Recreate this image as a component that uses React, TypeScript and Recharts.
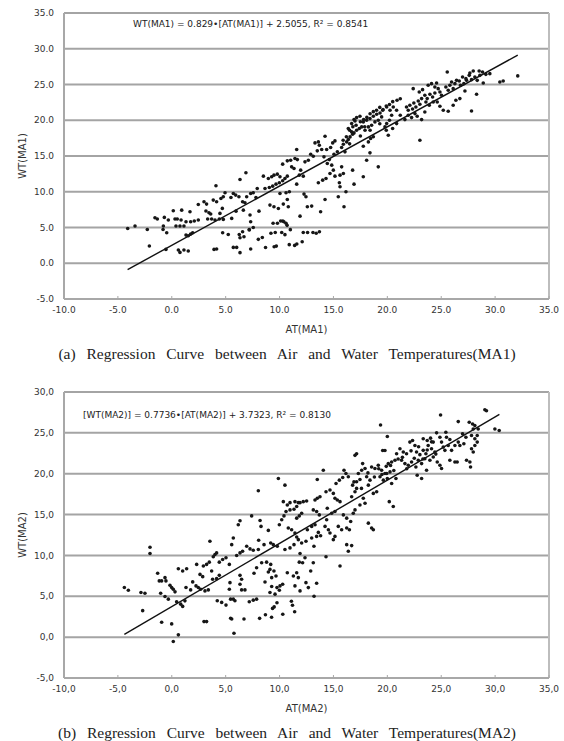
import React from "react";
import {
  CartesianGrid,
  ReferenceLine,
  Scatter,
  ScatterChart,
  XAxis,
  YAxis,
} from "recharts";

// MA1: air temperature (x) vs water temperature (y)
const at1 = [
  -4.09, -3.41, -2.27, -2.08, -1.56, -1.34, -0.78, -0.81, -0.69, -0.47, -0.32, 0.14, 0.3, 0.51, 0.39, 0.92,
  0.86, 0.76, 1.13, 1.32, 1.75, 2.09, 2.46, 1.69, 1.32, 1.53, 1.75, 1.94, 0.61, 0.76, 1.13, 1.53, -0.54,
  2.46, 2.99, 3.23, 3.17, 3.45, 3.61, 3.85, 4.16, 4.1, 3.33, 3.7, 4.01, 4.41, 4.78, 4.56, 4.78, 4.69, 4.47,
  4.94, 5.49, 5.71, 5.93, 6.23, 6.33, 6.88, 6.57, 6.79, 6.64, 6.95, 7.32, 7.56, 5.56, 5.96, 7.26, 7.32,
  7.19, 7.81, 7.93, 8.09, 4.72, 5.24, 6.26, 6.33, 6.57, 6.7, 7.19, 7.56, 3.92, 4.16, 5.71, 6.02, 6.33,
  7.32, 8.03,
  8.7, 9.5, 9.7, 10.9, 11.4, 11.6, 12.1, 12.6, 13.1, 13.4, 13.7, 9.2, 9.6, 10.2, 10.4, 10.6, 11.0, 10.1,
  9.4, 12.2, 10.5, 8.4, 9.8, 10.3, 10.7,
  8.5, 8.96, 9.27, 9.48, 9.79, 10.04, 8.65, 9.05, 9.36, 9.67, 9.98, 10.29, 10.5, 10.72, 9.11, 9.48, 9.89,
  10.35, 10.72, 10.81, 10.04, 10.6, 10.91, 10.29, 10.72, 11.12, 11.34, 11.59, 11.03, 11.43, 11.65, 11.83,
  12.2, 11.96, 11.59, 12.27, 12.45, 11.9, 12.58, 12.98, 12.36, 12.67, 12.89, 13.13, 13.29, 13.6, 13.69,
  13.5, 13.91, 14.22, 13.6, 14.0, 13.81, 14.22, 14.31, 14.68, 14.43, 14.84, 14.12, 14.62, 14.93, 15.14,
  14.37, 14.74, 15.05, 15.36, 14.99, 15.14, 15.76, 15.61, 15.92, 15.45, 15.98, 16.16, 15.55, 15.61, 15.76,
  15.92, 16.23, 16.38, 16.54, 16.78, 16.91, 16.07, 16.78, 16.91, 17.15, 17.4, 17.62, 16.69, 16.91, 17.15,
  17.46, 17.93, 18.24, 18.54, 17.77, 18.08, 18.39, 18.7, 19.01, 19.32, 19.57, 18.85, 19.16, 19.47, 17.77,
  18.24, 18.45, 18.08, 18.39, 19.16, 17.77, 16.38, 16.69, 19.94, 20.25, 20.55, 20.86, 20.4, 20.09, 20.49,
  20.86, 19.78, 19.94,
  15.9, 16.2, 16.5, 16.8, 17.1, 17.5, 17.8, 18.1, 18.4, 18.7, 19.0, 19.3, 19.6, 19.9, 20.2, 20.5, 20.9,
  21.2, 16.5, 17.5, 18.4, 19.3, 20.2, 21.2, 18.7, 19.9, 17.0, 17.9,
  21.63, 21.94, 22.25, 22.56, 22.77, 21.78, 22.09, 22.46, 22.87, 23.18, 21.94, 22.34, 22.65, 23.02, 22.4,
  22.96, 23.27, 23.48, 23.7, 23.95, 24.2, 24.41, 23.58, 23.89, 24.26, 23.48, 23.18, 23.02, 23.79, 24.1,
  24.41, 24.57, 24.72, 24.88, 25.03, 24.63, 24.88, 25.19, 25.43, 25.65, 25.8, 26.11, 25.96, 26.27, 26.42,
  26.67, 25.56, 25.65, 26.11, 26.36, 26.79, 27.1, 27.35, 26.98, 27.29, 27.6, 27.66, 27.97, 27.81, 27.2,
  27.81, 26.73, 28.12, 28.34, 28.59, 28.52, 28.83, 29.14, 28.28, 28.9, 29.51, 30.44, 30.75, 32.1,
];
const wt1 = [
  4.87, 5.2, 4.73, 2.41, 6.36, 6.18, 5.2, 4.73, 6.41, 4.27, 6.04, 7.34, 6.18, 6.18, 5.2, 7.43,
  6.04, 5.2, 5.2, 5.8, 5.8, 5.9, 6.04, 7.2, 3.94, 3.85, 4.08, 4.27, 1.85, 1.52, 1.85, 1.71, 1.94,
  8.22, 8.6, 8.27, 7.3, 7.06, 6.88, 8.83, 8.6, 10.83, 6.18, 6.18, 6.04, 6.18, 6.13, 9.06, 9.3, 7.67, 6.97,
  9.85, 9.2, 9.76, 9.53, 9.3, 11.72, 12.65, 8.6, 8.46, 7.43, 9.3, 9.76, 9.85, 6.27, 7.29, 6.74, 5.8,
  4.73, 9.2, 10.46, 7.29, 4.27, 4.03, 4.03, 3.57, 4.41, 3.71, 4.64, 5.01, 1.94, 1.99, 2.22, 2.22, 1.48,
  1.99, 3.34,
  2.2, 2.3, 2.4, 2.6, 2.5, 2.7, 3.0, 4.3, 4.3, 4.2, 4.4, 4.2, 4.3, 4.3, 5.8, 5.6, 4.7, 5.9,
  5.6, 4.3, 4.0, 3.6, 5.6, 5.9, 5.3,
  12.18, 11.85, 12.09, 12.32, 12.46, 12.09, 10.46, 10.6, 10.78, 11.06, 11.25, 11.53, 11.85, 12.18, 8.13, 7.9, 7.66,
  8.27, 8.92, 7.9, 9.76, 9.85, 9.99, 13.86, 14.32, 13.48, 13.25, 15.9, 14.41, 14.65, 14.5, 12.32,
  12.18, 13.02, 11.06, 9.67, 9.3, 6.59, 7.9, 7.99, 14.18, 14.41, 15.25, 14.97, 16.83, 16.97, 16.51,
  15.72, 15.9, 17.77, 11.25, 11.62, 7.2, 8.92, 11.85, 12.55, 13.95, 13.72, 14.88, 14.5, 16.83, 17.11,
  15.9, 16.18, 15.25, 15.58, 13.02, 12.18, 13.48, 12.32, 12.55, 9.3, 7.9, 9.99, 11.25, 10.69, 16.18,
  16.65, 16.97, 17.3, 17.67, 18.05, 18.23, 15.58, 13.02, 11.06, 18.6, 18.84, 19.07, 19.53, 20.09, 20.37,
  20.56, 18.6, 19.07, 19.3, 19.77, 20.0, 20.23, 20.56, 20.84, 21.02, 21.4, 19.77, 20.0, 20.47, 16.37,
  16.97, 17.44, 14.41, 15.44, 13.48, 12.09, 18.84, 18.37, 21.86, 21.4, 21.86, 21.4, 20.7, 17.91, 18.84,
  19.53, 19.07, 19.53,
  17.2, 17.7, 18.6, 19.1, 19.3, 19.8, 20.1, 20.4, 20.9, 21.2, 21.4, 21.8, 21.5, 22.0, 22.2, 22.6, 22.8,
  23.0, 16.7, 17.8, 18.6, 19.5, 20.0, 20.7, 17.7, 18.6, 19.9, 19.1,
  20.09, 20.7, 20.37, 20.93, 20.56, 21.86, 22.1, 22.42, 22.7, 23.03, 21.4, 21.58, 21.86, 22.23, 24.42,
  23.96, 24.28, 23.49, 23.03, 23.63, 23.26, 23.82, 22.56, 22.1, 22.56, 21.16, 20.09, 17.21, 24.89, 25.12,
  24.65, 25.21, 24.42, 23.96, 23.49, 22.56, 21.96, 21.4, 24.65, 24.19, 24.89, 24.42, 25.35, 25.12, 25.58,
  25.49, 26.75, 21.26, 22.1, 22.79, 24.89, 25.12, 25.58, 26.05, 25.82, 26.28, 26.61, 26.89, 25.68, 24.1,
  21.3, 23.03, 26.05, 25.58, 26.28, 26.89, 26.75, 26.42, 23.63, 25.21, 26.52, 25.35, 25.49, 26.2,
];

// MA2
const at2 = [
  -4.4, -4.03, -2.86, -2.49, -2.7, -2.02, -2.02, -1.31, -1.16, -0.94, -0.63, -0.54, -1.03, -0.63, -0.32,
  -0.94, -0.17, -0.01, 0.14, 0.3, 0.61, 1.01, 1.38, -0.01, 0.14, 0.61, 0.45, 0.83, 1.01, 1.22, 1.32, 1.75,
  1.94, 2.31, 2.62, 2.87, 2.25, 2.46, 2.68, 3.08, 3.39, 2.93, 3.23, 3.48, 3.7, 2.99, 3.23, 3.54, 3.85,
  4.01, 4.16, 3.79, 4.16, 4.41, 4.41, 4.72, 5.03, 4.22, 4.63, 5.03, 5.34, 5.56, 5.71, 5.4, 5.34, 5.46,
  5.86, 5.71, 5.46, 5.56, 5.77, 6.33, 6.48, 6.33, 6.48, 6.79, 6.02, 6.33, 6.57, 6.7, 7.19, 7.56, 7.87,
  6.95, 7.26, 7.56, 7.63, 7.87, 6.17, 6.33,
  8.15, 8.69, 9.26, 9.35, 9.5, 10.3, 11.4, 11.2, 11.1, 13.2, 9.76,
  8.03, 7.41, 8.19, 8.28, 8.96, 8.06, 8.56, 8.03, 9.18, 9.42, 9.79, 8.34, 8.8, 9.18, 8.96, 9.11, 9.48,
  8.65, 9.27, 9.67, 9.27, 9.76, 10.04, 10.29, 9.98, 9.11, 9.58, 9.89, 10.5, 10.35, 10.72, 10.97, 11.43,
  11.74, 10.2, 9.98, 10.41, 10.6, 10.97, 11.34, 11.59, 10.81, 11.12, 11.43, 11.59, 11.59, 11.83, 12.05,
  11.9, 12.2, 12.51, 10.5, 10.97, 11.34, 11.74, 12.05, 12.45, 11.9, 12.36, 11.83, 12.14, 10.72, 11.28,
  11.59, 11.74, 11.43, 11.9, 12.45, 12.67, 13.44, 13.13, 12.89, 12.58, 12.98, 13.29, 12.98, 13.44, 13.19,
  13.6, 13.81, 14.31, 13.29, 13.5, 13.75, 13.13, 13.44, 13.69, 13.5, 14.06, 14.37, 14.22, 14.53, 14.68,
  15.14, 14.99, 14.43, 14.84, 15.14, 14.31, 14.68, 14.99, 15.14, 15.36, 15.61, 15.61, 15.24, 15.55, 15.86,
  15.98, 16.16, 16.38, 15.45, 15.76, 16.23, 16.48, 16.23, 16.69, 16.38, 15.92, 16.23, 16.6, 16.69, 17.0,
  17.15, 16.78, 17.15, 17.46, 16.84, 17.0, 17.31, 17.62, 17.93, 17.0, 17.15, 17.71, 18.08, 18.39, 18.24,
  18.24, 18.54, 18.7, 17.46, 17.93, 17.77, 18.7, 19.01, 18.54, 18.85, 19.16, 19.47, 19.78, 19.32, 19.63,
  19.57, 19.78, 20.0, 20.09, 20.4, 20.71, 19.94, 20.25, 20.18, 20.55, 20.4, 20.8, 20.86,
  19.2, 19.5, 19.9, 20.3, 20.6, 21.0, 21.4, 21.8, 22.2, 22.5, 22.9, 23.3, 23.7, 24.1, 24.5, 18.8, 18.2,
  17.6, 16.9, 20.0,
  19.37, 21.17, 21.48, 21.78, 21.32, 21.63, 21.94, 22.25, 22.09, 22.34, 22.56, 22.71, 23.02, 23.33, 23.58,
  22.87, 23.18, 23.48, 22.65, 22.77, 23.18, 23.64, 23.33, 23.7, 24.01, 24.26, 23.79, 24.1, 24.41, 23.95,
  24.26, 24.63, 24.57, 24.88, 25.03, 24.94, 25.19, 25.34, 25.65, 25.49, 25.8, 25.43, 24.88, 25.03, 25.8,
  26.27, 25.96, 26.27, 26.58, 26.58, 26.98, 27.29, 26.48, 26.73, 27.1, 27.35, 27.66, 27.72, 27.6, 27.91,
  27.97, 28.12, 27.81, 28.12, 28.34, 27.81, 27.97, 28.12, 28.43, 28.34, 29.05, 29.2, 29.98, 30.38,
];
const wt2 = [
  6.07, 5.74, 5.46, 5.38, 3.24, 11.0, 10.23, 7.81, 6.88, 6.88, 7.28, 6.88, 5.38, 4.97, 4.65,
  1.82, 6.35, 6.07, 5.86, 5.54, 8.37, 8.09, 8.37, 1.62, -0.53, 0.28, 4.33, 4.04, 3.76, 4.44, 6.07, 5.78,
  6.76, 8.9, 7.68, 7.4, 6.27, 6.07, 5.86, 5.66, 5.78, 8.7, 8.9, 9.18, 8.09, 1.9, 1.9, 11.73, 9.83,
  10.11, 10.31, 7.08, 7.16, 7.56, 9.18, 9.5, 9.71, 4.45, 4.25, 3.92, 8.9, 11.32, 12.13, 6.67, 5.86, 4.65,
  4.45, 4.65, 2.31, 2.22, 0.48, 7.56, 7.08, 6.47, 5.78, 5.78, 9.99, 10.31, 10.52, 2.22, 4.33, 4.53, 4.65,
  11.12, 10.8, 10.64, 7.81, 8.49, 13.75, 14.24,
  2.3, 2.74, 2.43, 3.52, 3.7, 2.8, 3.1, 3.9, 4.4, 5.0, 4.2,
  17.92, 14.84, 14.28, 13.55, 13.06, 11.85, 11.32, 10.72, 11.53, 11.32, 11.12, 9.1, 9.18, 8.9, 7.97, 8.29, 8.09,
  6.75, 7.28, 7.48, 6.19, 6.06, 6.27, 6.47, 5.74, 5.46, 5.26, 19.41, 18.6, 16.58, 16.18, 16.46, 16.58,
  16.46, 14.36, 13.75, 14.84, 15.37, 15.57, 15.65, 15.98, 13.35, 13.14, 12.74, 12.25, 14.56, 14.84, 15.17,
  16.46, 16.58, 16.66, 10.72, 10.92, 11.32, 11.93, 11.53, 11.73, 10.23, 9.71, 9.18, 9.1, 7.88, 7.48,
  7.88, 7.28, 6.27, 5.66, 6.67, 6.06, 6.59, 9.1, 8.09, 13.14, 13.55, 13.75, 12.13, 12.33, 11.12,
  12.82, 12.41, 9.83, 16.79, 16.99, 17.19, 15.57, 15.37, 14.96, 19.29, 20.43, 14.36, 13.55, 13.14, 12.74,
  12.33, 11.93, 15.77, 15.17, 15.37, 17.8, 18.0, 17.59, 16.99, 16.79, 16.58, 8.7, 18.81, 19.21, 19.54,
  20.43, 20.02, 19.62, 13.55, 13.14, 13.35, 13.14, 11.32, 11.2, 10.52, 14.96, 14.56, 14.15, 17.19, 17.8,
  18.2, 18.6, 19.01, 19.29, 15.17, 15.57, 20.02, 20.43, 20.63, 22.25, 22.45, 21.24, 19.62, 19.21, 18.6,
  13.95, 13.35, 13.14, 16.18, 16.38, 16.99, 17.59, 17.8, 20.83, 20.63, 21.03, 20.43, 20.02, 19.62, 19.21,
  22.85, 22.85, 24.55, 21.24, 21.44, 21.64, 20.02, 20.22, 16.58, 15.98, 18.81, 19.41, 22.45,
  20.6, 19.9, 20.9, 21.0, 20.4, 21.8, 22.0, 20.6, 22.8, 21.9, 23.3, 21.8, 22.9, 23.9, 22.4, 19.6, 20.1,
  18.2, 19.0, 19.4,
  25.97, 23.06, 22.65, 22.45, 21.64, 21.24, 21.03, 21.44, 23.87, 24.07, 23.46, 22.65, 22.33, 22.86, 22.45,
  21.64, 21.24, 21.84, 20.83, 19.82, 19.42, 20.43, 24.27, 24.07, 24.35, 23.87, 23.46, 23.06, 22.65, 21.64,
  22.05, 21.44, 25.0, 24.47, 23.87, 27.18, 23.26, 22.86, 23.46, 24.47, 24.19, 25.08, 21.03, 20.63, 21.64,
  21.44, 22.86, 23.46, 23.87, 26.38, 24.88, 24.47, 21.44, 23.46, 23.66, 21.64, 21.44, 20.83, 26.29, 26.09,
  25.48, 25.89, 24.68, 24.27, 23.87, 23.06, 22.65, 23.46, 25.48, 24.68, 27.83, 27.71, 25.48, 25.28,
];

const xTicks = [-10, -5, 0, 5, 10, 15, 20, 25, 30, 35];
const yTicks1 = [-5, 0, 5, 10, 15, 20, 25, 30, 35];
const yTicks2 = [-5, 0, 5, 10, 15, 20, 25, 30];

const fit1 = { slope: 0.829, intercept: 2.5055, from: -4.1, to: 32.1 };
const fit2 = { slope: 0.7736, intercept: 3.7323, from: -4.4, to: 30.4 };

const tickFont = { fontSize: 9, fill: "#333", fontFamily: "DejaVu Sans" };
const frame = "#a8a8a8";

function Dot(props: any) {
  return <circle cx={props.cx} cy={props.cy} r={1.8} fill="#161616" />;
}

function Panel(props: {
  xs: number[];
  ys: number[];
  fit: { slope: number; intercept: number; from: number; to: number };
  yTicks: number[];
  fmt: (v: number) => string;
  xLabel: string;
  yLabel: string;
  eq: string;
  eqLeft: number;
  eqTop: number;
  caption: string;
  top: number;
}) {
  const { xs, ys, fit, yTicks, fmt } = props;
  const pts = xs.map((x, i) => ({ x, y: ys[i] }));
  const f = (x: number) => fit.slope * x + fit.intercept;
  const XTick = (p: any) => (
    <g>
      <line x1={p.x} x2={p.x} y1={p.y - 8} y2={p.y - 5} stroke={frame} />
      <text x={p.x} y={p.y} dy={9} textAnchor="middle" {...tickFont}>
        {fmt(p.payload.value)}
      </text>
    </g>
  );
  return (
    <div style={{ position: "absolute", left: 0, top: props.top, width: 564, height: 372 }}>
      <ScatterChart width={564} height={342} margin={{ top: 13, right: 15, left: 0, bottom: 0 }}>
        <CartesianGrid vertical={false} stroke="#a4a4a4" strokeWidth={2} />
        <XAxis
          type="number"
          dataKey="x"
          domain={[-10, 35]}
          ticks={xTicks}
          height={43}
          tickSize={0}
          tickMargin={5}
          tickLine={false}
          axisLine={{ stroke: frame, strokeWidth: 2 }}
          tick={<XTick />}
          label={{ value: props.xLabel, position: "insideBottom", offset: 9, style: { fontSize: 10, fill: "#333", fontFamily: "DejaVu Sans" } }}
        />
        <YAxis
          type="number"
          dataKey="y"
          domain={[yTicks[0], yTicks[yTicks.length - 1]]}
          ticks={yTicks}
          width={64}
          tickSize={0}
          tickMargin={10}
          tickLine={false}
          axisLine={{ stroke: frame, strokeWidth: 2 }}
          tick={tickFont}
          tickFormatter={fmt}
          label={{ value: props.yLabel, angle: -90, position: "insideLeft", offset: 22, style: { textAnchor: "middle", fontSize: 10, fill: "#333", fontFamily: "DejaVu Sans" } }}
        />
        <ReferenceLine x={35} stroke="#bdbdbd" strokeWidth={2} />
        <Scatter data={pts} shape={<Dot />} isAnimationActive={false} />
        <ReferenceLine
          segment={[
            { x: fit.from, y: f(fit.from) },
            { x: fit.to, y: f(fit.to) },
          ]}
          stroke="#111"
          strokeWidth={1.4}
          ifOverflow="visible"
        />
      </ScatterChart>
      <div
        style={{
          position: "absolute",
          left: props.eqLeft,
          top: props.eqTop,
          fontFamily: "DejaVu Sans",
          fontSize: 9,
          color: "#222",
          whiteSpace: "nowrap",
        }}
      >
        {props.eq}
      </div>
      <div
        style={{
          position: "absolute",
          left: 0,
          top: 345,
          width: 574,
          textAlign: "center",
          fontFamily: "Liberation Serif",
          fontSize: 15.5,
          color: "#222",
          wordSpacing: 7,
          whiteSpace: "nowrap",
        }}
      >
        {props.caption}
      </div>
    </div>
  );
}

export default function App() {
  return (
    <div style={{ position: "absolute", left: 0, top: 0, width: 564, height: 741, background: "#fff", overflow: "hidden" }}>
      <Panel
        xs={at1}
        ys={wt1}
        fit={fit1}
        yTicks={yTicks1}
        fmt={(v) => v.toFixed(1)}
        xLabel="AT(MA1)"
        yLabel="WT(MA1)"
        eq="WT(MA1) = 0.829•[AT(MA1)] + 2.5055, R² = 0.8541"
        eqLeft={133}
        eqTop={19}
        caption="(a) Regression Curve between Air and Water Temperatures(MA1)"
        top={0}
      />
      <Panel
        xs={at2}
        ys={wt2}
        fit={fit2}
        yTicks={yTicks2}
        fmt={(v) => v.toFixed(1).replace(".", ",")}
        xLabel="AT(MA2)"
        yLabel="WT(MA2)"
        eq="[WT(MA2)] = 0.7736•[AT(MA2)] + 3.7323, R² = 0.8130"
        eqLeft={83}
        eqTop={31}
        caption="(b) Regression Curve between Air and Water Temperatures(MA2)"
        top={379}
      />
    </div>
  );
}
